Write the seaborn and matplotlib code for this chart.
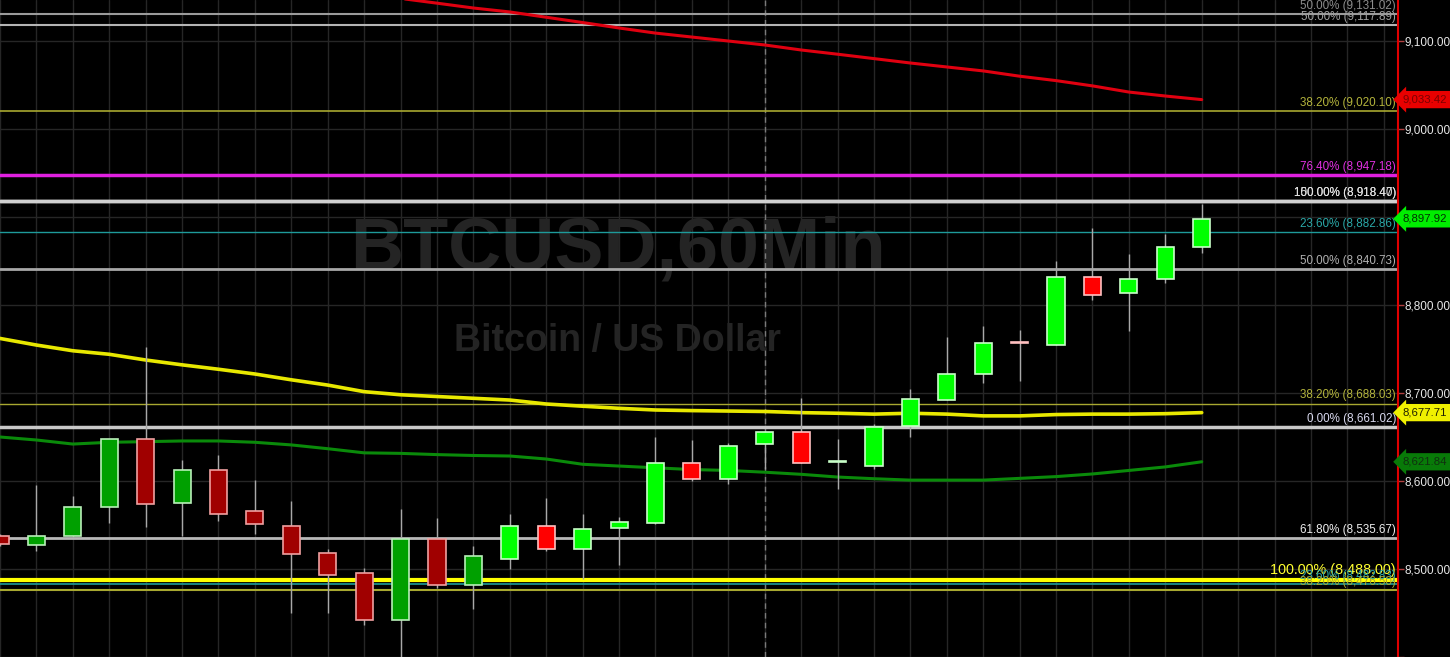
import numpy as np
import pandas as pd
import matplotlib
matplotlib.use('Agg')
import matplotlib.pyplot as plt
import seaborn as sns

# hourly candles, BTCUSD
opens = [8538, 8527, 8537, 8570, 8648, 8575, 8612, 8566, 8549, 8518, 8495, 8442, 8534, 8482,
         8511, 8549, 8523, 8547, 8552, 8621, 8602, 8642, 8656, 8622, 8617, 8662, 8692, 8722,
         8757.5, 8755, 8832, 8814, 8829, 8866]
closes = [8528, 8538, 8570, 8648, 8574, 8612, 8563, 8551, 8517, 8493, 8442, 8534, 8482, 8515,
          8549, 8523, 8546, 8553, 8621, 8602, 8640, 8656, 8621, 8623, 8661, 8693, 8722, 8757,
          8757, 8832, 8811, 8829, 8866, 8897.92]
highs = [8540, 8595, 8583, 8648, 8752, 8624, 8630, 8601, 8577, 8523, 8501, 8568, 8558, 8526,
         8562, 8581, 8562, 8559, 8650, 8647, 8643, 8656, 8694, 8648, 8665, 8705, 8764, 8776,
         8772, 8850, 8887, 8858, 8881, 8915]
lows = [8526, 8520, 8537, 8552, 8548, 8537, 8555, 8540, 8450, 8450, 8436, 8395, 8478, 8455,
        8500, 8520, 8489, 8505, 8551, 8600, 8597, 8614, 8621, 8591, 8614, 8650, 8692, 8711,
        8714, 8755, 8806, 8771, 8825, 8859]

# moving averages
ma_yellow = [8762, 8754.5, 8748, 8744, 8737.5, 8732, 8727, 8721.6, 8715, 8709, 8701.5, 8698,
             8696, 8694, 8692, 8687.5, 8685, 8682.6, 8680.7, 8680, 8679.5, 8679, 8677.7, 8677,
             8676, 8677, 8676, 8674, 8674, 8675.5, 8676, 8676, 8676.5, 8677.71]
ma_green = [8650, 8646.6, 8642, 8644, 8644.7, 8645.5, 8645.5, 8644, 8641, 8636.7, 8632, 8631.4,
            8630, 8629, 8628.4, 8625, 8619, 8617, 8615, 8613, 8612, 8610, 8607.6, 8604.5,
            8602.6, 8601, 8601, 8601, 8603, 8605, 8608, 8612, 8616, 8621.84]
ma_red_start = 10
ma_red = [9154, 9148.4, 9143, 9137.5, 9133, 9127, 9121, 9114.8, 9109, 9104.5, 9100, 9095.5,
          9089.8, 9085, 9080, 9075, 9070.5, 9066, 9060, 9055, 9049, 9042, 9037.5, 9033.42]

# fibonacci levels
fib_levels = [9131.02, 9117.89, 9020.10, 8947.18, 8918.47, 8918.40, 8882.86, 8840.73,
              8688.03, 8661.02, 8535.67, 8488.00, 8482.83, 8476.50]
fib_labels = ['50.00% (9,131.02)', '50.00% (9,117.89)', '38.20% (9,020.10)',
              '76.40% (8,947.18)', '150.00% (8,918.47)', '100.00% (8,918.40)',
              '23.60% (8,882.86)', '50.00% (8,840.73)', '38.20% (8,688.03)',
              '0.00% (8,661.02)', '61.80% (8,535.67)', '100.00% (8,488.00)',
              '23.60% (8,482.83)', '38.20% (8,476.50)']

y_ticks = [8400, 8500, 8600, 8700, 8800, 8900, 9000, 9100]
y_tick_labels = ['', '8,500.00', '8,600.00', '8,700.00', '8,800.00', '', '9,000.00', '9,100.00']

title = 'BTCUSD,60Min'
subtitle = 'Bitcoin / US Dollar'

# styles
fib_colors = ['#9a9a9a', '#b4b4b4', '#a8a830', '#e020e0', '#d0d0d0', '#d0d0d0', '#1e9a9a',
              '#a8a8a8', '#a8a830', '#c8c8c8', '#b8b8b8', '#ffff00', '#1e9a9a', '#a8a830']
fib_text_colors = ['#8c8c8c', '#a0a0a0', '#b4b43c', '#e030e0', '#e0e0e0', '#e0e0e0', '#2aa8a8',
                   '#b0b0b0', '#b4b43c', '#d8d8ee', '#eeeeee', '#ffff30', '#2aa8a8', '#a8a830']
fib_widths = [1.5, 1.5, 1.2, 2.5, 2.5, 2.5, 1.0, 2.0, 1.0, 2.5, 2.0, 3.0, 1.2, 1.5]
fib_sizes = [8.4] * 11 + [10.4, 8.4, 8.4]
dim_before = 14

sns.set_style('dark', {'axes.facecolor': 'black', 'figure.facecolor': 'black'})
plt.rcParams['font.family'] = ['Liberation Sans', 'DejaVu Sans']

fig = plt.figure(figsize=(14.5, 6.57), dpi=100)
ax = fig.add_axes([0, 0, 1398 / 1450, 1])
ax.set_facecolor('black')

n = len(opens)
idx = np.arange(n)
x_max = 38.39
ax.set_xlim(0, x_max)
ax.set_ylim(8400, 9146.6)

# grid
for gx in range(0, 39):
    ax.axvline(gx, color='#262626', lw=1, zorder=0)
for gy in y_ticks:
    ax.axhline(gy, color='#262626', lw=1, zorder=0)
ax.axvline(21, color='#7a7a7a', lw=1, ls=(0, (4, 3)), zorder=1)

# watermark
ax.text(0.442, 0.619, title, transform=ax.transAxes, ha='center', va='center',
        fontsize=53, fontweight='bold', color='#242424', zorder=0.5)
ax.text(0.442, 0.481, subtitle, transform=ax.transAxes, ha='center', va='center',
        fontsize=27, fontweight='bold', color='#242424', zorder=0.5)

# fib lines + labels
for lv, lb, c, tc, w, s in zip(fib_levels, fib_labels, fib_colors, fib_text_colors,
                                fib_widths, fib_sizes):
    ax.axhline(lv, color=c, lw=w, zorder=2)
    ax.annotate(lb, xy=(0.9985, lv), xycoords=('axes fraction', 'data'),
                xytext=(0, 1.5), textcoords='offset points', ha='right', va='bottom',
                fontsize=s, color=tc, zorder=3)

# moving averages via seaborn
df = pd.DataFrame({'i': idx, 'yellow': ma_yellow, 'green': ma_green})
df_red = pd.DataFrame({'i': np.arange(ma_red_start, ma_red_start + len(ma_red)), 'red': ma_red})
sns.lineplot(data=df, x='i', y='yellow', color='#e8e800', lw=2.6, ax=ax, zorder=4)
sns.lineplot(data=df, x='i', y='green', color='#0a8a0a', lw=2.2, ax=ax, zorder=4)
sns.lineplot(data=df_red, x='i', y='red', color='#e00010', lw=2.2, ax=ax, zorder=4)

# candles
for i in idx:
    o, c, h, l = opens[i], closes[i], highs[i], lows[i]
    up = c >= o
    if i < dim_before:
        fc = '#00a000' if up else '#a00000'
        ec = '#b8f0b8' if up else '#f0a0a0'
    else:
        fc = '#00ff00' if up else '#ff0000'
        ec = '#c8ffc8' if up else '#ffc0c0'
    ax.vlines(i, l, h, color='#a8a8a8', lw=1, zorder=5)
    lo, hi = min(o, c), max(o, c)
    ax.bar(i, max(hi - lo, 0.4), bottom=lo, width=0.47, color=fc, edgecolor=ec,
           lw=1.2, zorder=6)

# axis
ax.yaxis.tick_right()
ax.set_yticks(y_ticks)
ax.set_yticklabels(y_tick_labels)
ax.tick_params(axis='y', colors='#e8e8e8', labelsize=8.5, length=4, width=1, pad=1,
               color='#b04040')
ax.set_xticks([])
ax.set_xlabel('')
ax.set_ylabel('')
for sp in ['top', 'left', 'bottom']:
    ax.spines[sp].set_visible(False)
ax.spines['right'].set_color('#e00000')
ax.spines['right'].set_linewidth(1.5)

# last value boxes
last_vals = [ma_red[-1], closes[-1], ma_yellow[-1], ma_green[-1]]
box_fc = ['#e80000', '#00ee00', '#f0f000', '#087a08']
box_tc = ['#7a0000', '#003000', '#202000', '#103010']
for v, fc, tc in zip(last_vals, box_fc, box_tc):
    ax.annotate(f'{v:,.2f}', xy=(1.0, v), xycoords=('axes fraction', 'data'),
                xytext=(3.5, 0), textcoords='offset points', ha='left', va='center',
                fontsize=8.2, color=tc, annotation_clip=False,
                bbox=dict(boxstyle='larrow,pad=0.32', fc=fc, ec='none'))

fig.savefig('out.png', dpi=100, facecolor='black')
